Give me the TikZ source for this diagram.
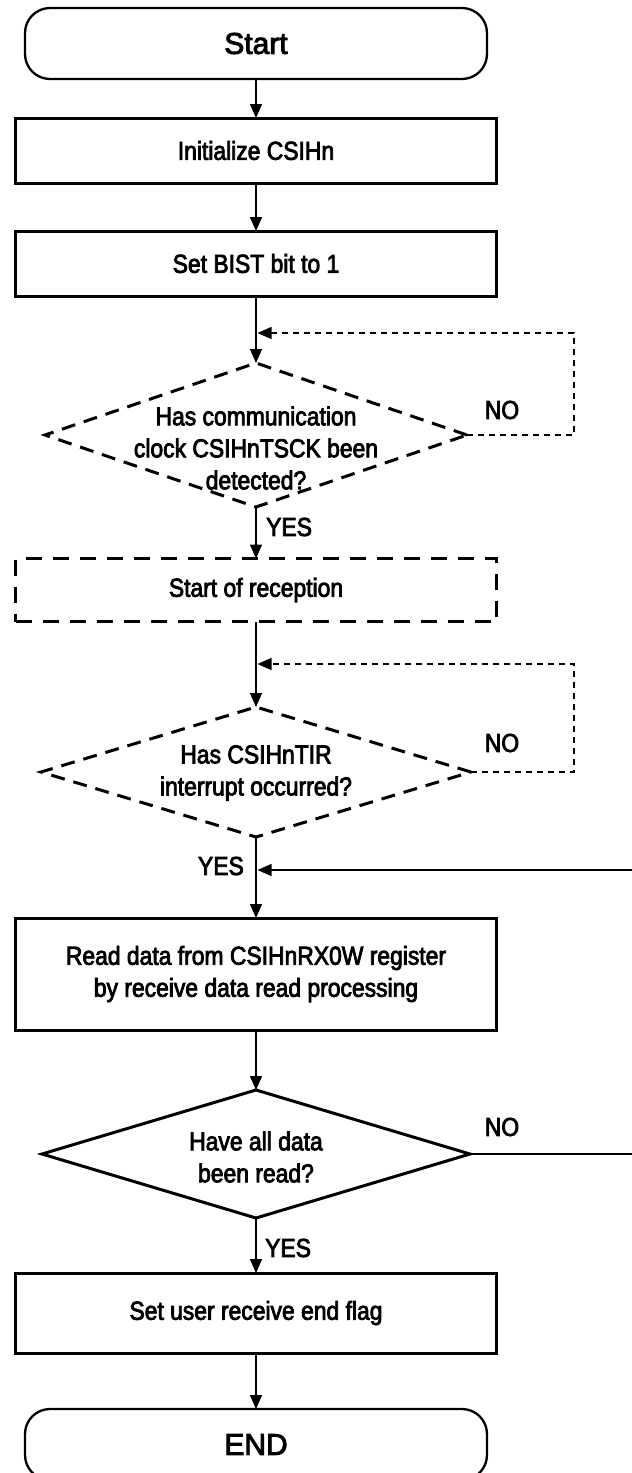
\documentclass[tikz,border=0pt]{standalone}
\usepackage{fontspec}
\setmainfont{Liberation Sans}[FakeBold=3]
\newfontfamily\bodyfont{Liberation Sans}[FakeStretch=0.88, FakeBold=3]
\usetikzlibrary{arrows.meta,shapes.geometric}

\begin{document}
\begin{tikzpicture}[x=1pt,y=-1pt,
  txt/.style={font=\bodyfont\fontsize{26}{32}\selectfont},
  terminal/.style={draw, line width=2.3pt, rounded corners=25pt,
    minimum width=462pt, minimum height=71pt, inner sep=0pt, outer sep=0pt,
    font=\fontsize{30}{36}\selectfont},
  process/.style={draw, line width=3pt, minimum width=481pt,
    inner sep=0pt, outer sep=0pt, txt, align=center},
  dashbox/.style={process, line width=3.5pt, dash pattern=on 16pt off 11pt},
  decision/.style={draw, diamond, line width=3pt, inner sep=0pt, outer sep=0pt},
  dashdecision/.style={decision, dash pattern=on 14pt off 9pt},
  qtext/.style={txt, align=center, inner sep=0pt},
  lbl/.style={txt, inner sep=0pt},
  conn/.style={line width=1.5pt},
  arrow/.style={conn, -{Triangle[length=14pt,width=12pt]}},
  loopline/.style={line width=1.3pt, dash pattern=on 6pt off 5pt,
    -{Triangle[length=14pt,width=12pt]}},
]
\useasboundingbox (0,0) rectangle (632,1473);
\clip (0,0) rectangle (632,1473);

% flow steps
\node[terminal] (start) at (256,43.5) {Start};
\node[process, minimum height=65pt] (init) at (256,150.5) {Initialize CSIHn};
\node[process, minimum height=65pt] (bist) at (256,263.5) {Set BIST bit to 1};
\node[dashdecision, minimum width=422pt, minimum height=144pt] (d1) at (256,435) {};
\node[qtext] (d1t) at (256,448) {Has communication\\clock CSIHnTSCK been\\detected?};
\node[dashbox, minimum height=63pt] (rec) at (256,590) {Start of reception};
\node[dashdecision, minimum width=430pt, minimum height=130pt] (d2) at (256,772) {};
\node[qtext] (d2t) at (256,773) {Has CSIHnTIR\\interrupt occurred?};
\node[process, minimum height=112pt] (read) at (256,974) {Read data from CSIHnRX0W register\\by receive data read processing};
\node[decision, minimum width=428pt, minimum height=128pt] (d3) at (256,1154) {};
\node[qtext] (d3t) at (256,1157) {Have all data\\been read?};
\node[process, minimum height=80pt] (set) at (256,1313) {Set user receive end flag};
\node[terminal] (end) at (256,1444.5) {END};

% main flow
\draw[arrow] (start) -- (init);
\draw[arrow] (init) -- (bist);
\draw[arrow] (bist) -- (d1.north);
\draw[arrow] (d1.south) -- (rec.north);
\draw[arrow] (rec) -- (d2.north);
\draw[arrow] (d2.south) -- (read.north);
\draw[arrow] (read) -- (d3.north);
\draw[arrow] (d3.south) -- (set.north);
\draw[arrow] (set) -- (end);

% wait loops
\coordinate (n1a) at (574,435);
\coordinate (n1b) at (574,333);
\coordinate (n1c) at (257.5,333);
\draw[loopline] (d1.east) -- (n1a) -- (n1b) -- (n1c);
\coordinate (n2a) at (574,772);
\coordinate (n2b) at (574,664);
\coordinate (n2c) at (257.5,664);
\draw[loopline] (d2.east) -- (n2a) -- (n2b) -- (n2c);

% repeat until all data read
\coordinate (r1) at (660,1154);
\coordinate (r2) at (660,870);
\coordinate (j) at (257.5,870);
\draw[arrow] (d3.east) -- (r1) -- (r2) -- (j);

% branch labels
\node[lbl] (no1) at (502,410) {NO};
\node[lbl] (no2) at (502,743) {NO};
\node[lbl] (no3) at (502,1127) {NO};
\node[lbl, anchor=west] (yes1) at (266,527) {YES};
\node[lbl, anchor=east] (yes2) at (244,866) {YES};
\node[lbl, anchor=west] (yes3) at (265,1248) {YES};
\end{tikzpicture}
\end{document}
